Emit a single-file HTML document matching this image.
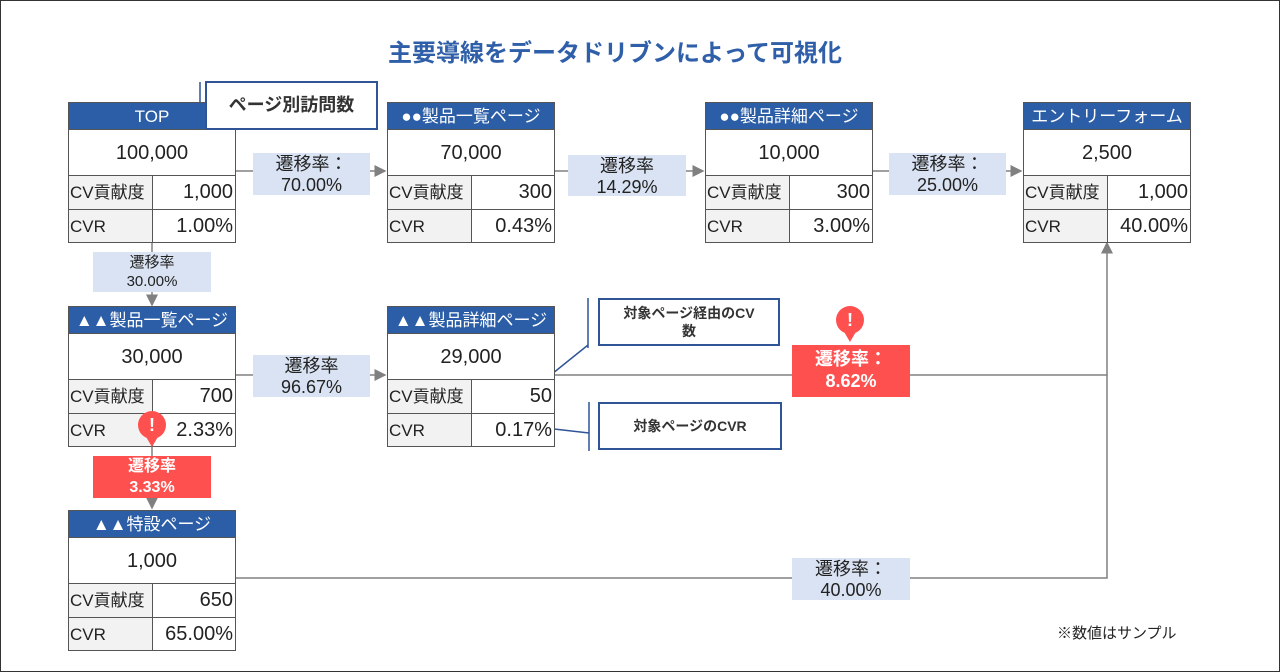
<!DOCTYPE html>
<html><head><meta charset="utf-8"><style>
*{margin:0;padding:0;box-sizing:border-box}
body{width:1280px;height:672px;background:#fff;position:relative;overflow:hidden;font-family:"Liberation Sans","Noto Sans CJK JP",sans-serif;color:#222}
.frame{position:absolute;left:0;top:0;width:1280px;height:672px;border:1px solid #333}
.t{position:absolute;left:0;width:1230px;top:33px;text-align:center;font-size:24px;font-weight:bold;color:#2e5fa8}
.box{position:absolute;width:168px;border:1px solid #555;background:#fff}
.h{height:27px;background:#2b5ea7;color:#fff;font-size:17px;text-align:center;line-height:27px;border-bottom:1px solid #555}
.v{height:46px;font-size:20px;text-align:center;line-height:46px;border-bottom:1px solid #555}
.r{display:flex;height:33px;font-size:17px;line-height:33px}
.r+.r{border-top:1px solid #555}
.r .a{width:84px;background:#f2f2f2;border-right:1px solid #555;padding-left:1px}
.r .b{flex:1;text-align:right;padding-right:2px;font-size:20px}
.lb{position:absolute;background:#dae3f3;text-align:center;font-size:17px;line-height:21px;padding-top:1px}
.red{position:absolute;background:#ff5050;color:#fff;text-align:center;font-weight:bold;font-size:17px;line-height:22px}
.co{position:absolute;border:2px solid #2f5597;background:#fff;font-weight:bold;text-align:center;color:#333}
svg{position:absolute;left:0;top:0}
</style></head><body>
<div class="frame"></div>
<div class="t">主要導線をデータドリブンによって可視化</div>
<svg width="1280" height="672">
<defs><marker id="ar" markerWidth="8" markerHeight="8" refX="7" refY="4" orient="auto"><path d="M0,0 L8,4 L0,8z" fill="#808080"/></marker></defs>
<g stroke="#808080" stroke-width="1.5" fill="none">
<path d="M236,171 H385" marker-end="url(#ar)"/>
<path d="M554,171 H703" marker-end="url(#ar)"/>
<path d="M872,171 H1021" marker-end="url(#ar)"/>
<path d="M152,241 V305" marker-end="url(#ar)"/>
<path d="M236,375 H385" marker-end="url(#ar)"/>
<path d="M554,375 H1107 V243" marker-end="url(#ar)"/>
<path d="M152,444 V508" marker-end="url(#ar)"/>
<path d="M236,578 H1107 V375"/>
</g>
<g stroke="#2f5597" stroke-width="1.5" fill="none">
<path d="M200,82 V130 M200,130 L176,148"/>
<path d="M588,298 V348 M588,345 L542,382"/>
<path d="M589,402 V451 M554,429 L589,433"/>
</g>
</svg>

<div class="box" style="left:68px;top:102px"><div class="h">TOP</div><div class="v">100,000</div><div class="r"><div class="a">CV貢献度</div><div class="b">1,000</div></div><div class="r"><div class="a">CVR</div><div class="b">1.00%</div></div></div>
<div class="box" style="left:387px;top:102px"><div class="h">●●製品一覧ページ</div><div class="v">70,000</div><div class="r"><div class="a">CV貢献度</div><div class="b">300</div></div><div class="r"><div class="a">CVR</div><div class="b">0.43%</div></div></div>
<div class="box" style="left:705px;top:102px"><div class="h">●●製品詳細ページ</div><div class="v">10,000</div><div class="r"><div class="a">CV貢献度</div><div class="b">300</div></div><div class="r"><div class="a">CVR</div><div class="b">3.00%</div></div></div>
<div class="box" style="left:1023px;top:102px"><div class="h">エントリーフォーム</div><div class="v">2,500</div><div class="r"><div class="a">CV貢献度</div><div class="b">1,000</div></div><div class="r"><div class="a">CVR</div><div class="b">40.00%</div></div></div>
<div class="box" style="left:68px;top:306px"><div class="h">▲▲製品一覧ページ</div><div class="v">30,000</div><div class="r"><div class="a">CV貢献度</div><div class="b">700</div></div><div class="r"><div class="a">CVR</div><div class="b">2.33%</div></div></div>
<div class="box" style="left:387px;top:306px"><div class="h">▲▲製品詳細ページ</div><div class="v">29,000</div><div class="r"><div class="a">CV貢献度</div><div class="b">50</div></div><div class="r"><div class="a">CVR</div><div class="b">0.17%</div></div></div>
<div class="box" style="left:68px;top:510px"><div class="h">▲▲特設ページ</div><div class="v">1,000</div><div class="r"><div class="a">CV貢献度</div><div class="b">650</div></div><div class="r"><div class="a">CVR</div><div class="b">65.00%</div></div></div>

<div class="lb" style="left:253px;top:153px;width:117px;height:42px;font-size:18px">遷移率：<br>70.00%</div>
<div class="lb" style="left:568px;top:155px;width:118px;height:41px;font-size:18px">遷移率<br>14.29%</div>
<div class="lb" style="left:889px;top:153px;width:117px;height:42px;font-size:18px">遷移率：<br>25.00%</div>
<div class="lb" style="left:93px;top:252px;width:118px;height:40px;font-size:15px;line-height:19px">遷移率<br>30.00%</div>
<div class="lb" style="left:253px;top:355px;width:117px;height:42px;font-size:18px">遷移率<br>96.67%</div>
<div class="lb" style="left:792px;top:558px;width:118px;height:42px;font-size:18px">遷移率：<br>40.00%</div>
<div class="red" style="left:792px;top:345px;width:118px;height:52px;padding-top:3px;font-size:18px">遷移率：<br>8.62%</div>
<div class="red" style="left:93px;top:456px;width:118px;height:42px;padding-top:0px;font-size:16px;line-height:21px">遷移率<br>3.33%</div>

<div class="co" style="left:205px;top:81px;width:173px;height:49px;font-size:18px;line-height:45px">ページ別訪問数</div>
<div class="co" style="left:598px;top:298px;width:182px;height:48px;font-size:14px;line-height:18px;padding-top:4px">対象ページ経由のCV<br>数</div>
<div class="co" style="left:598px;top:402px;width:184px;height:48px;font-size:14px;line-height:44px">対象ページのCVR</div>
<div style="position:absolute;left:1057px;top:622px;font-size:15px">※数値はサンプル</div>
<svg width="1280" height="672">
<g fill="#ff5050">
<circle cx="850" cy="320" r="14"/><path d="M843,330 L850,342 L857,330z"/>
<circle cx="152" cy="425" r="14"/><path d="M145,435 L152,447 L159,435z"/>
</g>
<g fill="#fff" font-weight="bold" font-size="18" text-anchor="middle" font-family="Liberation Sans,sans-serif">
<text x="850" y="326">!</text><text x="152" y="431">!</text></g>
</svg>
</body></html>
